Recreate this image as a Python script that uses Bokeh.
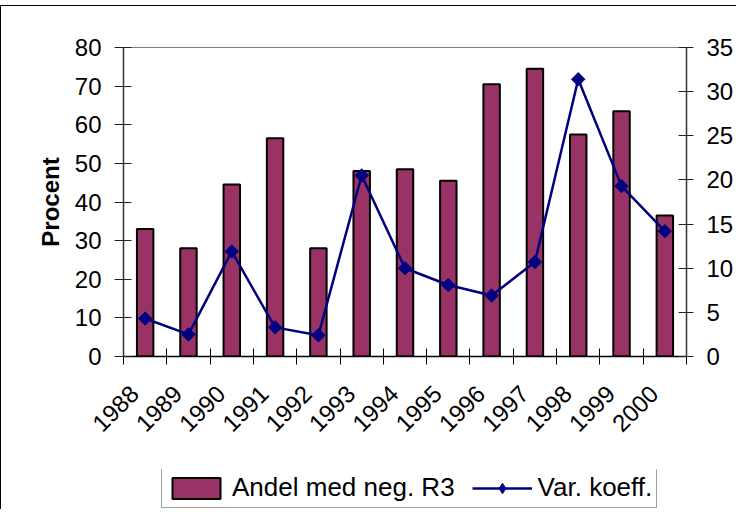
import numpy as np
from bokeh.plotting import figure
from bokeh.layouts import column
from bokeh.models import (Range1d, LinearAxis, FixedTicker, Legend, LegendItem)
from bokeh.embed import file_html
from bokeh.resources import INLINE

years = ["1988", "1989", "1990", "1991", "1992", "1993", "1994",
         "1995", "1996", "1997", "1998", "1999", "2000"]
andel = [33.0, 28.0, 44.5, 56.5, 28.0, 48.0, 48.5, 45.5, 70.5, 74.5, 57.5, 63.5, 36.5]
var_koeff = [4.3, 2.5, 11.9, 3.3, 2.4, 20.5, 10.0, 8.1, 6.9, 10.7, 31.4, 19.3, 14.2]
left_ticks = [0, 10, 20, 30, 40, 50, 60, 70, 80]
right_ticks = [0, 5, 10, 15, 20, 25, 30, 35]

FONT = "Liberation Sans"
BAR_FILL = "#993366"
LINE_COL = "#000080"
n = len(years)
xc = np.arange(n) + 0.5            # category centres
bounds = list(range(n + 1))         # category boundaries
label_pos = [i + 0.25 for i in range(n)]

BL, BR = 122, 47

p = figure(width=735, height=463, output_backend="svg", toolbar_location=None,
           x_range=Range1d(0, n), y_range=Range1d(0, 80),
           min_border_left=BL, min_border_right=BR, min_border_top=41,
           min_border_bottom=113, background_fill_color="white",
           border_fill_color="white", outline_line_color="#808080",
           outline_line_width=1)
p.xgrid.visible = False
p.ygrid.visible = False
p.extra_y_ranges = {"cv": Range1d(0, 35)}


def draw_series(fig, marker="square", angle=np.pi / 4):
    b = fig.vbar(x=xc, top=andel, width=0.38, fill_color=BAR_FILL,
                 line_color="black", line_width=2)
    l = fig.line(x=xc, y=var_koeff, y_range_name="cv", line_color=LINE_COL, line_width=2.5)
    m = fig.scatter(x=xc, y=var_koeff, y_range_name="cv", marker=marker,
                    angle=angle, size=9.5, fill_color=LINE_COL, line_color=LINE_COL)
    return b, l, m


draw_series(p)

# x axis
xa = p.xaxis[0]
xa.ticker = FixedTicker(ticks=label_pos, minor_ticks=bounds)
xa.major_label_overrides = {lp: y for lp, y in zip(label_pos, years)}
xa.major_tick_out = 0
xa.major_tick_in = 0
xa.major_tick_line_color = None
xa.minor_tick_in = 8
xa.minor_tick_out = 8
xa.minor_tick_line_color = "black"
xa.minor_tick_line_width = 1
xa.axis_line_color = "black"
xa.axis_line_width = 1.5
xa.major_label_orientation = np.pi / 4
xa.major_label_standoff = 25
xa.major_label_text_font = FONT
xa.major_label_text_font_size = "24px"
xa.major_label_text_color = "black"

# left axis
ya = p.yaxis[0]
ya.ticker = FixedTicker(ticks=left_ticks, minor_ticks=[])
ya.major_tick_in = 8
ya.major_tick_out = 9
ya.major_tick_line_color = "#222222"
ya.axis_line_color = "#333333"
ya.axis_line_width = 1.5
ya.major_label_standoff = 13
ya.major_label_text_font = FONT
ya.major_label_text_font_size = "24px"
ya.major_label_text_color = "black"
ya.axis_label = "Procent"
ya.axis_label_text_font = FONT
ya.axis_label_text_font_size = "24px"
ya.axis_label_text_font_style = "bold"
ya.axis_label_text_color = "black"
ya.axis_label_standoff = 8

# right axis
ra = LinearAxis(y_range_name="cv", ticker=FixedTicker(ticks=right_ticks, minor_ticks=[]))
ra.major_tick_in = 8
ra.major_tick_out = 7
ra.major_tick_line_color = "#222222"
ra.axis_line_color = "#333333"
ra.axis_line_width = 1.5
ra.major_label_standoff = 13
ra.major_label_text_font = FONT
ra.major_label_text_font_size = "24px"
ra.major_label_text_color = "black"
p.add_layout(ra, "right")

# legend strip below the chart (same side borders so the frames line up)
lf = figure(width=735, height=40, output_backend="svg", toolbar_location=None,
            x_axis_location=None, y_axis_location=None,
            x_range=Range1d(100, 101), y_range=Range1d(100, 101),
            min_border_left=BL, min_border_right=BR, min_border_top=0,
            min_border_bottom=0, outline_line_color=None,
            background_fill_color="white", border_fill_color="white")
lf.xgrid.visible = False
lf.ygrid.visible = False
lf.extra_y_ranges = {"cv": Range1d(100, 101)}
lb, ll, lm = draw_series(lf, marker="diamond", angle=0.0)
for r in (lb, ll, lm):
    r.visible = False

legend = Legend(items=[LegendItem(label="Andel med neg. R3", renderers=[lb]),
                       LegendItem(label="Var. koeff.", renderers=[ll, lm])],
                orientation="horizontal", location=(38, 1),
                label_text_font=FONT, label_text_font_size="26px",
                label_text_color="black", glyph_width=60, glyph_height=26,
                label_standoff=6, spacing=17, padding=4, margin=0,
                border_line_color="#444444", border_line_width=1,
                background_fill_color="white", background_fill_alpha=1)
lf.add_layout(legend, "center")

layout = column(p, lf, spacing=0, margin=(5, 0, 0, 0),
                styles={"border-left": "1px solid black", "border-top": "1px solid black"})

open("out.html", "w").write(file_html(layout, INLINE))
